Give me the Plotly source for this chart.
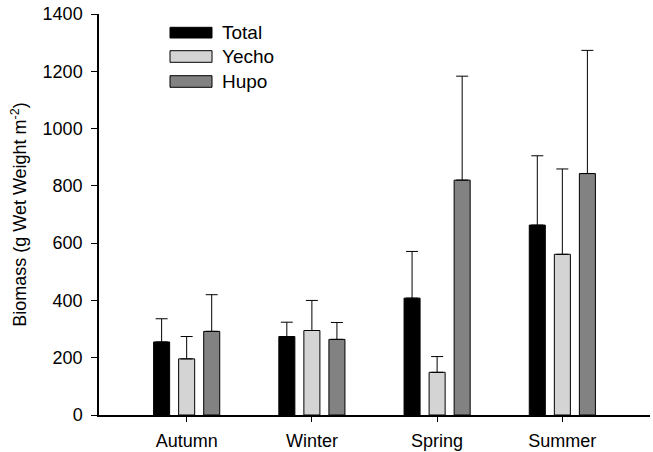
import plotly.graph_objects as go

seasons = ["Autumn", "Winter", "Spring", "Summer"]
series_names = ["Total", "Yecho", "Hupo"]
total_vals = [255, 274, 408, 663]
total_err = [81, 50, 163, 242]
yecho_vals = [196, 295, 149, 561]
yecho_err = [78, 105, 55, 298]
hupo_vals = [292, 264, 820, 843]
hupo_err = [128, 59, 363, 430]
y_ticks = [0, 200, 400, 600, 800, 1000, 1200, 1400]

colors = ["#000000", "#d4d4d4", "#828282"]
vals = [total_vals, yecho_vals, hupo_vals]
errs = [total_err, yecho_err, hupo_err]

FONT = "Liberation Sans, Arial, sans-serif"
W, H = 653, 452
L, R, T, B = 99, 3, 14, 37
pw, ph = W - L - R, H - T - B

def px2x(px):
    return (px - L) / pw

def py2y(py):
    return (H - B - py) / ph

fig = go.Figure()
for name, v, e, c in zip(series_names, vals, errs, colors):
    fig.add_trace(go.Bar(
        x=seasons, y=v, name=name,
        marker=dict(color=c, line=dict(color="#000000", width=1)),
        error_y=dict(type="data", symmetric=False, array=e,
                     arrayminus=[0] * len(e), color="#000000",
                     thickness=1, width=6),
        showlegend=False,
    ))

shapes = []
annotations = []
leg_rows = [(27.3, 38.0), (50.7, 62.3), (75.7, 87.3)]
for name, c, (y0, y1) in zip(series_names, colors, leg_rows):
    shapes.append(dict(type="rect", xref="paper", yref="paper",
                       x0=px2x(170), x1=px2x(212), y0=py2y(y1), y1=py2y(y0),
                       fillcolor=c, line=dict(color="#000000", width=1)))
    annotations.append(dict(xref="paper", yref="paper", x=px2x(220),
                            y=py2y((y0 + y1) / 2), text=name, showarrow=False,
                            xanchor="left", yanchor="middle",
                            font=dict(family=FONT, size=19, color="#000000")))

fig.update_layout(
    width=W, height=H,
    margin=dict(l=L, r=R, t=T, b=B, autoexpand=False),
    paper_bgcolor="white", plot_bgcolor="white",
    barmode="group", bargap=0.4, bargroupgap=0.36,
    font=dict(family=FONT, size=18, color="#000000"),
    shapes=shapes, annotations=annotations,
    xaxis=dict(range=[-0.7, 3.7], showline=True, linecolor="#000000",
               linewidth=1.5, ticks="outside", ticklen=5, tickwidth=1,
               tickcolor="#000000", showgrid=False, zeroline=False,
               automargin=False, tickfont=dict(size=18),
               ticklabelstandoff=4),
    yaxis=dict(range=[0, 1400], tickvals=y_ticks, showline=True,
               linecolor="#000000", linewidth=1.5, ticks="outside",
               ticklen=6, tickwidth=1, tickcolor="#000000", showgrid=False,
               zeroline=False, automargin=False, tickfont=dict(size=18),
               ticklabelstandoff=5, ticklabeloverflow="allow",
               title=dict(text="Biomass (g Wet Weight m<sup>-2</sup>)",
                          font=dict(size=18), standoff=11)),
)

fig.write_html("out.html",
               config={"displayModeBar": False},
               post_script="document.body.style.margin='0';"
                           "document.body.style.overflow='hidden';")
